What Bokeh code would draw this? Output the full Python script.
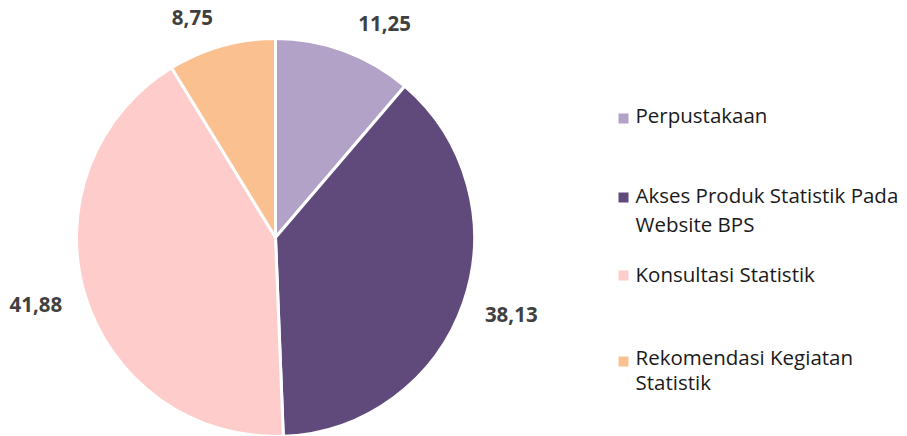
import numpy as np
from bokeh.plotting import figure
from bokeh.models import ColumnDataSource, Range1d
from bokeh.core.properties import value
from bokeh.embed import file_html
from bokeh.resources import INLINE

# ---- data ----
categories = ["Perpustakaan", "Akses Produk Statistik Pada Website BPS",
              "Konsultasi Statistik", "Rekomendasi Kegiatan Statistik"]
values = [11.25, 38.13, 41.88, 8.75]
legend_lines = [["Perpustakaan"], ["Akses Produk Statistik Pada", "Website BPS"],
                ["Konsultasi Statistik"], ["Rekomendasi Kegiatan", "Statistik"]]

# ---- style ----
colors = ["#B3A2C7", "#604A7B", "#FFCCCC", "#FAC090"]
W, H = 907, 436
cx, cy, R = 275, H - 237, 199
label_r = 240
label_dx = [26, 9, -10, -18]
label_dy = [11, -2, -3, 11]
FONT = "Open Sans"
shift = 9

p = figure(width=W, height=H, output_backend="svg", toolbar_location=None,
           x_range=Range1d(0, W), y_range=Range1d(0, H), min_border=0)
p.axis.visible = False
p.grid.visible = False
p.outline_line_color = None
p.background_fill_color = "white"

vals = np.array(values, dtype=float)
frac = vals / vals.sum()
cum = np.concatenate([[0], np.cumsum(frac)])
start = np.pi / 2 - cum[:-1] * 2 * np.pi
end = np.pi / 2 - cum[1:] * 2 * np.pi
mid = (cum[:-1] + cum[1:]) / 2 * 2 * np.pi  # clockwise from top

src = ColumnDataSource(dict(start=start, end=end, color=colors))
p.wedge(x=cx, y=cy, radius=R, radius_units="screen", start_angle="start",
        end_angle="end", direction="clock", fill_color="color",
        line_color="white", line_width=3, source=src)

lx = cx + label_r * np.sin(mid)
ly = cy + label_r * np.cos(mid)
labels = [f"{v:.2f}".replace(".", ",") for v in values]
lsrc = ColumnDataSource(dict(x=lx, y=ly, t=labels, dx=label_dx, dy=label_dy))
p.text(x="x", y="y", text="t", x_offset="dx", y_offset="dy", source=lsrc,
       text_align="center", text_baseline="alphabetic",
       text_font=value(FONT), text_font_style="bold",
       text_font_size="20.5px", text_color="#404040")

# ---- legend (custom) ----
sq_x = 623
sq_y = [H - 118, H - 197, H - 275, H - 361]
txt_x = 635
baselines = [[123], [203, 232], [282], [365, 390]]
p.rect(x=[sq_x] * 4, y=sq_y, width=10, height=10, width_units="screen",
       height_units="screen", fill_color=colors, line_color=None)
tx, ty, tt = [], [], []
for lines, bls in zip(legend_lines, baselines):
    for t, b in zip(lines, bls):
        tx.append(txt_x); ty.append(H - b + shift); tt.append(t)
p.text(x=tx, y=ty, text=tt, text_align="left", text_baseline="alphabetic",
       text_font=value(FONT), text_font_size="20.5px", text_color="#1a1a1a")

open("out.html", "w").write(file_html(p, INLINE))
